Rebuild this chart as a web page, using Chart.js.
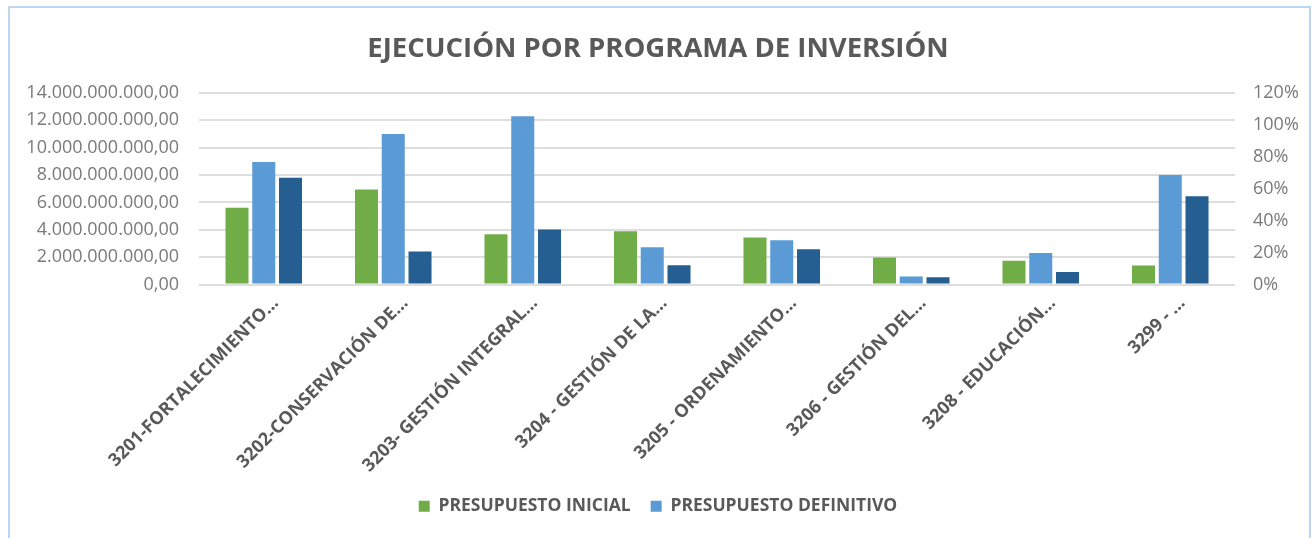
<!DOCTYPE html>
<html>
<head>
<meta charset="utf-8">
<script src="https://cdn.jsdelivr.net/npm/chart.js@4"></script>
<style>
  html, body { margin: 0; padding: 0; background: #fff; overflow: hidden; }
  #wrap { position: absolute; left: 0; top: 0; width: 1316px; height: 538px; }
  #frame { position: absolute; left: 8px; top: 6px; width: 1303px; height: 560px; border: 2px solid #BDD7EE; box-sizing: border-box; pointer-events: none; }
  canvas { position: absolute; left: 0; top: 0; }
</style>
</head>
<body>
<div id="wrap">
  <canvas id="c" width="1316" height="538"></canvas>
  <div id="frame"></div>
</div>
<script>
const categories = [
  "3201-FORTALECIMIENTO…",
  "3202-CONSERVACIÓN DE…",
  "3203- GESTIÓN INTEGRAL…",
  "3204 - GESTIÓN DE LA…",
  "3205 - ORDENAMIENTO…",
  "3206 - GESTIÓN DEL…",
  "3208 - EDUCACIÓN…",
  "3299 - …"
];
const presupuestoInicial    = [5.62e9, 6.95e9, 3.67e9, 3.90e9, 3.44e9, 1.97e9, 1.73e9, 1.39e9];
const presupuestoDefinitivo = [8.95e9, 11.0e9, 12.30e9, 2.73e9, 3.24e9, 0.58e9, 2.31e9, 8.0e9];
const ejecutado             = [7.80e9, 2.42e9, 4.03e9, 1.41e9, 2.58e9, 0.53e9, 0.92e9, 6.46e9];
const leftTicksMax = 14e9, leftStep = 2e9;
const rightTicksMax = 120, rightStep = 20;
const titleText = "EJECUCIÓN POR PROGRAMA DE INVERSIÓN";

function fmtMoney(v) {
  const s = Math.round(v).toString();
  const grouped = s.replace(/\B(?=(\d{3})+(?!\d))/g, ".");
  return grouped + ",00";
}

Chart.defaults.font.family = "'Open Sans', sans-serif";
const gray = "#595959";
const tickGray = "#7a7a7a";

new Chart(document.getElementById("c"), {
  type: "bar",
  data: {
    labels: categories,
    datasets: [
      { label: "PRESUPUESTO INICIAL", data: presupuestoInicial, backgroundColor: "#70AD47", yAxisID: "y" },
      { label: "PRESUPUESTO DEFINITIVO", data: presupuestoDefinitivo, backgroundColor: "#5B9BD5", yAxisID: "y" },
      { label: "EJECUTADO", data: ejecutado, backgroundColor: "#255E91", yAxisID: "y" }
    ]
  },
  options: {
    responsive: false,
    animation: false,
    devicePixelRatio: 1,
    categoryPercentage: 0.62,
    barPercentage: 0.86,
    layout: { padding: { left: 0, right: 0, top: 0, bottom: 13 } },
    plugins: {
      title: {
        display: true,
        text: titleText,
        color: gray,
        font: { size: 27.5, weight: "bold" },
        padding: { top: 33, bottom: 27 }
      },
      legend: {
        position: "bottom",
        labels: {
          color: gray,
          font: { size: 17.5, weight: "bold" },
          boxWidth: 11,
          boxHeight: 11,
          padding: 20,
          filter: (item) => item.datasetIndex < 2
        }
      },
      tooltip: { enabled: false }
    },
    scales: {
      x: {
        grid: { display: false, drawTicks: false },
        border: { display: false },
        ticks: {
          color: gray,
          font: { size: 18, weight: "bold" },
          minRotation: 45,
          maxRotation: 45,
          autoSkip: false,
          padding: 8,
          labelOffset: 12
        },
        afterFit: (s) => { s.height = 193; }
      },
      y: {
        position: "left",
        min: 0,
        max: leftTicksMax,
        grid: { color: "#dedede", lineWidth: 2, drawTicks: false },
        border: { display: false },
        ticks: {
          stepSize: leftStep,
          color: tickGray,
          font: { size: 18 },
          padding: 20,
          callback: (v) => fmtMoney(v)
        },
        afterFit: (s) => { s.width = 199; }
      },
      y2: {
        position: "right",
        min: 0,
        max: rightTicksMax,
        grid: { display: false, drawTicks: false },
        border: { display: false },
        ticks: {
          stepSize: rightStep,
          color: tickGray,
          font: { size: 18 },
          padding: 18,
          callback: (v) => v + "%"
        },
        afterFit: (s) => { s.width = 81; }
      }
    }
  }
});
</script>
</body>
</html>
